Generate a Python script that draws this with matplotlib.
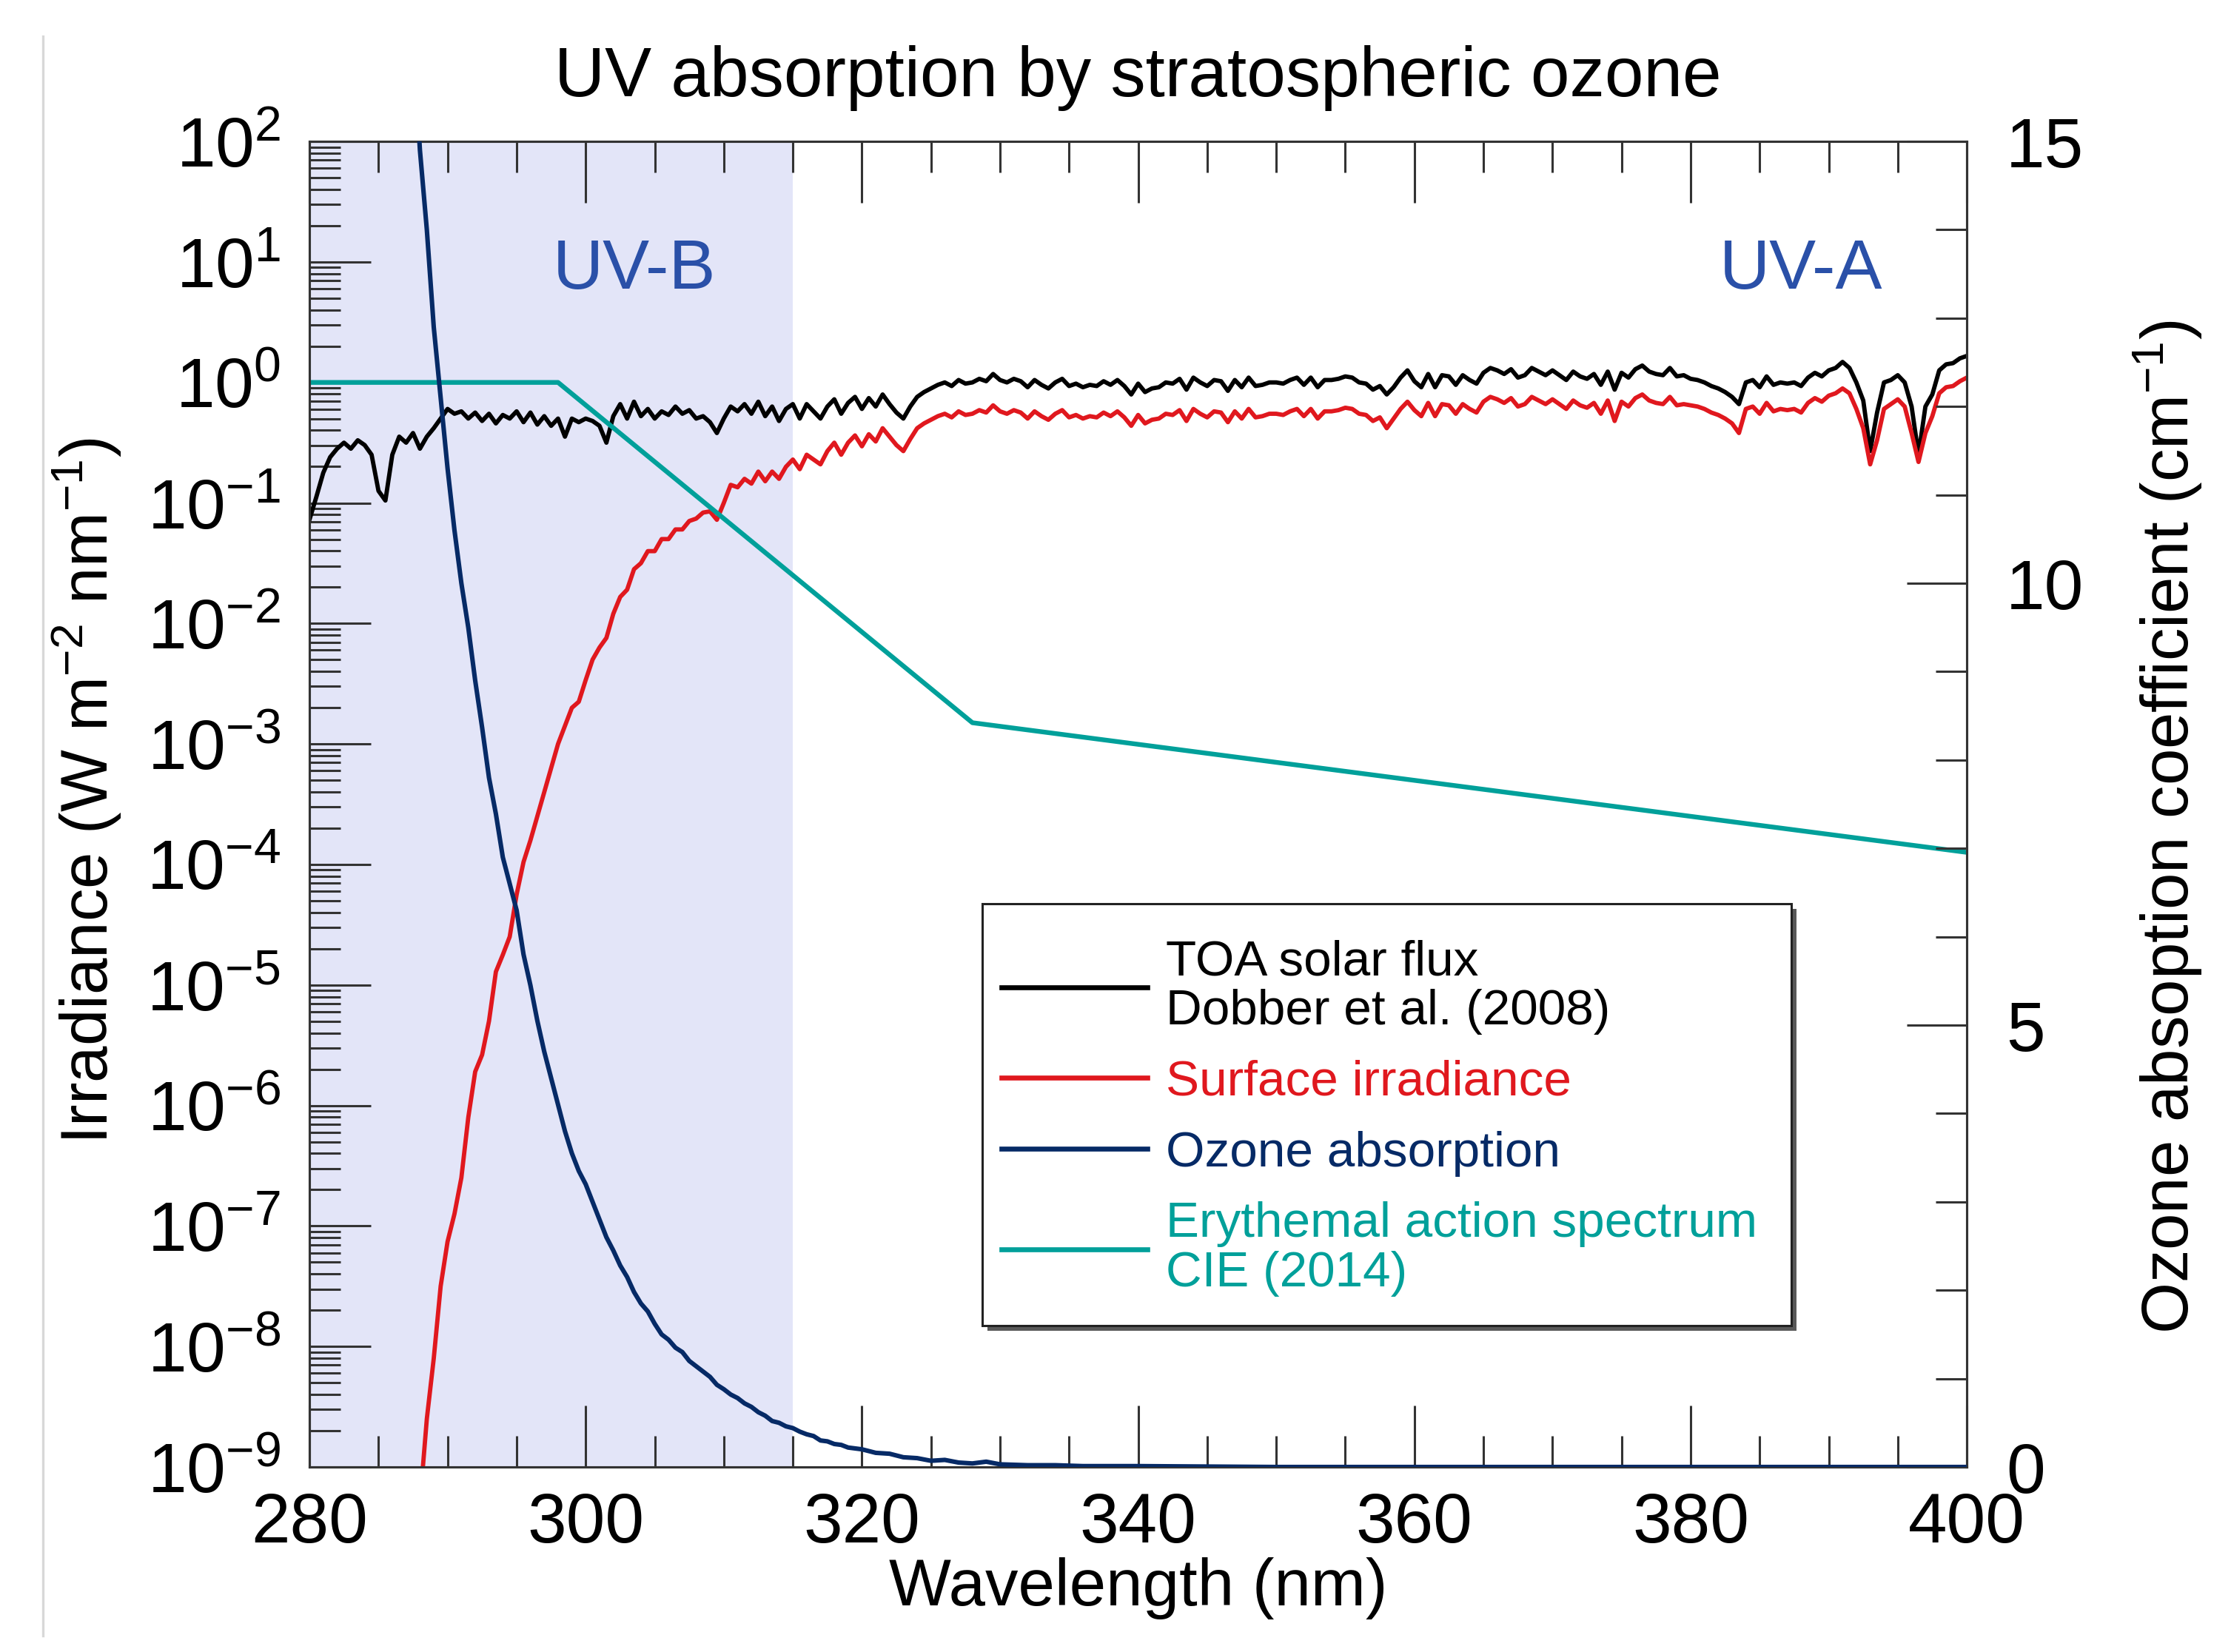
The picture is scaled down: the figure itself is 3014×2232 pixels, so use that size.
import numpy as np
import matplotlib
matplotlib.use("Agg")
import matplotlib.pyplot as plt
from matplotlib.ticker import MultipleLocator, FixedLocator, FixedFormatter
from matplotlib.lines import Line2D
from matplotlib.patches import Rectangle

plt.rcParams['font.family'] = ['Liberation Sans', 'DejaVu Sans']
plt.rcParams['mathtext.fontset'] = 'custom'
plt.rcParams['mathtext.rm'] = 'Liberation Sans'
plt.rcParams['mathtext.it'] = 'Liberation Sans:italic'
plt.rcParams['mathtext.default'] = 'regular'

# ---------------- data ----------------
wl_half = np.arange(280.0, 400.01, 0.5)  # 0.5 nm grid

toa_log10 = [
    -1.14, -0.95, -0.75, -0.62, -0.55, -0.50, -0.55, -0.48, -0.52, -0.60,   # 280-284.5
    -0.90, -0.98, -0.60, -0.45, -0.50, -0.42, -0.55, -0.45, -0.38, -0.30,   # 285-289.5
    -0.22, -0.26, -0.24, -0.30, -0.25, -0.32, -0.26, -0.34, -0.27, -0.30,   # 290-294.5
    -0.24, -0.33, -0.25, -0.35, -0.28, -0.36, -0.30, -0.45, -0.30, -0.33,   # 295-299.5
    -0.30, -0.32, -0.36, -0.50, -0.28, -0.18, -0.30, -0.16, -0.28, -0.22,   # 300-304.5
    -0.30, -0.24, -0.27, -0.20, -0.26, -0.23, -0.30, -0.28, -0.33, -0.42,   # 305-309.5
    -0.30, -0.20, -0.24, -0.18, -0.26, -0.16, -0.28, -0.20, -0.32, -0.22,   # 310-314.5
    -0.18, -0.30, -0.18, -0.24, -0.30, -0.20, -0.14, -0.26, -0.17, -0.12,   # 315-319.5
    -0.22, -0.13, -0.20, -0.10, -0.18, -0.25, -0.30, -0.20, -0.12, -0.08,   # 320-324.5
    -0.05, -0.02, 0.00, -0.03, 0.02, -0.01, 0.00, 0.03, 0.01, 0.07,         # 325-329.5
    0.02, 0.00, 0.03, 0.01, -0.04, 0.02, -0.02, -0.05, 0.00, 0.03,          # 330-334.5
    -0.03, -0.01, -0.04, -0.02, -0.03, 0.01, -0.02, 0.02, -0.03, -0.10,     # 335-339.5
    -0.01, -0.08, -0.05, -0.04, 0.00, -0.01, 0.03, -0.06, 0.04, 0.00,       # 340-344.5
    -0.03, 0.02, 0.01, -0.07, 0.02, -0.04, 0.04, -0.03, -0.02, 0.00,        # 345-349.5
    0.00, -0.01, 0.02, 0.04, -0.02, 0.04, -0.04, 0.02, 0.02, 0.03,          # 350-354.5
    0.05, 0.04, 0.00, -0.01, -0.06, -0.03, -0.10, -0.04, 0.04, 0.10,        # 355-359.5
    0.01, -0.04, 0.07, -0.04, 0.06, 0.05, -0.02, 0.06, 0.02, -0.01,         # 360-364.5
    0.08, 0.12, 0.10, 0.07, 0.11, 0.04, 0.06, 0.12, 0.09, 0.06,             # 365-369.5
    0.10, 0.06, 0.02, 0.09, 0.05, 0.03, 0.07, -0.02, 0.09, -0.06,           # 370-374.5
    0.08, 0.04, 0.11, 0.14, 0.09, 0.07, 0.06, 0.12, 0.05, 0.06,             # 375-379.5
    0.03, 0.02, 0.00, -0.03, -0.05, -0.08, -0.12, -0.18, 0.00, 0.02,        # 380-384.5
    -0.04, 0.05, -0.02, 0.00, -0.01, 0.00, -0.03, 0.04, 0.08, 0.05,         # 385-389.5
    0.10, 0.12, 0.17, 0.12, 0.00, -0.15, -0.57, -0.25, 0.00, 0.02,          # 390-394.5
    0.06, 0.00, -0.20, -0.60, -0.20, -0.10, 0.10, 0.15, 0.16, 0.20,         # 395-399.5
    0.22,                                                                   # 400
]

surf_wl = np.arange(288.0, 400.01, 0.5)
surf_log10 = [
    -9.30, -8.60, -8.10, -7.50, -7.13, -6.90, -6.60, -6.10, -5.72, -5.58,   # 288-292.5
    -5.30, -4.89, -4.75, -4.60, -4.25, -3.98, -3.80, -3.60, -3.40, -3.20,   # 293-297.5
    -3.00, -2.85, -2.70, -2.65, -2.47, -2.30, -2.20, -2.12, -1.92, -1.78,   # 298-302.5
    -1.72, -1.55, -1.50, -1.40, -1.40, -1.30, -1.30, -1.22, -1.22, -1.15,   # 303-307.5
    -1.13, -1.08, -1.07, -1.14, -1.00, -0.85, -0.87, -0.80, -0.84, -0.74,   # 308-312.5
    -0.82, -0.74, -0.80, -0.70, -0.64, -0.72, -0.60, -0.64, -0.68, -0.57,   # 313-317.5
    -0.50, -0.60, -0.50, -0.44, -0.53, -0.43, -0.49, -0.38, -0.45, -0.52,   # 318-322.5
    -0.57, -0.47, -0.38, -0.34, -0.31, -0.28, -0.26, -0.29, -0.24, -0.27,   # 323-327.5
    -0.26, -0.23, -0.25, -0.19, -0.24, -0.26, -0.23, -0.25, -0.30, -0.24,   # 328-332.5
    -0.28, -0.31, -0.26, -0.23, -0.29, -0.27, -0.30, -0.28, -0.29, -0.25,   # 333-337.5
    -0.28, -0.24, -0.29, -0.36, -0.27, -0.34, -0.31, -0.30, -0.26, -0.27,   # 338-342.5
    -0.23, -0.32, -0.22, -0.26, -0.29, -0.24, -0.25, -0.33, -0.24, -0.30,   # 343-347.5
    -0.22, -0.29, -0.28, -0.26, -0.26, -0.27, -0.24, -0.22, -0.28, -0.22,   # 348-352.5
    -0.30, -0.24, -0.24, -0.23, -0.21, -0.22, -0.26, -0.27, -0.32, -0.29,   # 353-357.5
    -0.38, -0.30, -0.22, -0.16, -0.23, -0.28, -0.17, -0.28, -0.18, -0.19,   # 358-362.5
    -0.26, -0.18, -0.22, -0.25, -0.16, -0.12, -0.14, -0.17, -0.13, -0.20,   # 363-367.5
    -0.18, -0.12, -0.15, -0.18, -0.14, -0.18, -0.22, -0.15, -0.19, -0.21,   # 368-372.5
    -0.17, -0.26, -0.15, -0.32, -0.16, -0.20, -0.13, -0.10, -0.15, -0.17,   # 373-377.5
    -0.18, -0.12, -0.19, -0.18, -0.19, -0.20, -0.22, -0.25, -0.27, -0.30,   # 378-382.5
    -0.34, -0.42, -0.22, -0.20, -0.26, -0.17, -0.24, -0.22, -0.23, -0.22,   # 383-387.5
    -0.25, -0.17, -0.13, -0.16, -0.11, -0.09, -0.05, -0.09, -0.22, -0.38,   # 388-392.5
    -0.68, -0.48, -0.22, -0.18, -0.14, -0.20, -0.42, -0.66, -0.42, -0.28,   # 393-397.5
    -0.09, -0.04, -0.03, 0.01, 0.04,                                        # 398-400
]

ozone_wl = [287.5, 288.0, 288.5, 289.0, 289.5, 290.0, 290.5, 291.0, 291.5, 292.0,
            292.5, 293.0, 293.5, 294.0, 294.5, 295.0, 295.5, 296.0, 296.5, 297.0,
            297.5, 298.0, 298.5, 299.0, 299.5, 300.0, 300.5, 301.0, 301.5, 302.0,
            302.5, 303.0, 303.5, 304.0, 304.5, 305.0, 305.5, 306.0, 306.5, 307.0,
            307.5, 308.0, 308.5, 309.0, 309.5, 310.0, 310.5, 311.0, 311.5, 312.0,
            312.5, 313.0, 313.5, 314.0, 314.5, 315.0, 315.5, 316.0, 316.5, 317.0,
            317.5, 318.0, 318.5, 319.0, 320.0, 321.0, 322.0, 323.0, 324.0, 325.0,
            326.0, 327.0, 328.0, 329.0, 330.0, 332.0, 334.0, 336.0, 340.0, 345.0,
            350.0, 400.0]
ozone_coef = [16.2, 14.9, 14.0, 12.9, 12.1, 11.3, 10.6, 10.0, 9.5, 8.9,
              8.37, 7.8, 7.39, 6.9, 6.6, 6.3, 5.8, 5.45, 5.05, 4.7,
              4.4, 4.1, 3.8, 3.55, 3.35, 3.2, 3.0, 2.8, 2.6, 2.45,
              2.28, 2.15, 1.98, 1.85, 1.76, 1.62, 1.50, 1.44, 1.35, 1.30,
              1.20, 1.14, 1.08, 1.02, 0.93, 0.88, 0.82, 0.78, 0.72, 0.68,
              0.62, 0.58, 0.52, 0.50, 0.46, 0.44, 0.40, 0.37, 0.35, 0.30,
              0.29, 0.26, 0.25, 0.22, 0.20, 0.16, 0.15, 0.11, 0.10, 0.07,
              0.08, 0.05, 0.04, 0.06, 0.03, 0.02, 0.02, 0.01, 0.01, 0.005,
              0.0, 0.0]

ery_wl = [280.0, 298.0, 328.0, 400.0]
ery_val = [1.0, 1.0, 1.5e-3, 1.26e-4]

uvb_range = (280.0, 315.0)

ytick_vals = [1e-9, 1e-8, 1e-7, 1e-6, 1e-5, 1e-4, 1e-3, 1e-2, 1e-1, 1e0, 1e1, 1e2]
ytick_labels = ['10$^{-9}$', '10$^{-8}$', '10$^{-7}$', '10$^{-6}$', '10$^{-5}$', '10$^{-4}$',
                '10$^{-3}$', '10$^{-2}$', '10$^{-1}$', '10$^{0}$', '10$^{1}$', '10$^{2}$']
xtick_vals = [280, 300, 320, 340, 360, 380, 400]
rtick_vals = [0, 5, 10, 15]

labels = ['TOA solar flux\nDobber et al. (2008)', 'Surface irradiance',
          'Ozone absorption', 'Erythemal action spectrum\nCIE (2014)']

c_black = '#000000'
c_red = '#e0181e'
c_navy = '#062a66'
c_teal = '#00a09a'
c_uv = '#2a50a8'
c_shade = '#e3e5f8'

# ---------------- figure ----------------
fig = plt.figure(figsize=(15.07, 11.16), dpi=200)
ax = fig.add_axes([0.1387, 0.1120, 0.8816 - 0.1387, 0.9144 - 0.1120])
ax2 = ax.twinx()

ax.axvspan(uvb_range[0], uvb_range[1], color=c_shade, lw=0, zorder=0)

l_toa, = ax.plot(wl_half, 10.0 ** np.array(toa_log10), color=c_black, lw=2.1, zorder=3)
l_srf, = ax.plot(surf_wl, 10.0 ** np.array(surf_log10), color=c_red, lw=2.1, zorder=3)
l_ery, = ax.plot(ery_wl, ery_val, color=c_teal, lw=2.3, zorder=4)
l_oz, = ax2.plot(ozone_wl, ozone_coef, color=c_navy, lw=2.2, zorder=3)

ax.set_yscale('log')
ax.set_xlim(280, 400)
ax.set_ylim(1e-9, 1e2)
ax2.set_ylim(0, 15)

ax.yaxis.set_major_locator(FixedLocator(ytick_vals))
ax.yaxis.set_major_formatter(FixedFormatter(ytick_labels))
minors = []
for e in range(-9, 2):
    for s in range(2, 10):
        minors.append(s * 10.0 ** e)
ax.yaxis.set_minor_locator(FixedLocator(minors))
ax.yaxis.set_minor_formatter(FixedFormatter([''] * len(minors)))

ax.xaxis.set_major_locator(FixedLocator(xtick_vals))
ax.xaxis.set_minor_locator(MultipleLocator(5))
ax2.yaxis.set_major_locator(FixedLocator(rtick_vals))
ax2.yaxis.set_minor_locator(MultipleLocator(1))

tick_fs = 34
ax.tick_params(axis='x', which='both', direction='in', top=True, bottom=True,
               labelsize=tick_fs, pad=12, width=1.1, color='#333333')
ax.tick_params(axis='x', which='major', length=30)
ax.tick_params(axis='x', which='minor', length=15)
ax.tick_params(axis='y', which='both', direction='in', left=True, right=False,
               labelsize=tick_fs, pad=14, width=1.1, color='#333333')
ax.tick_params(axis='y', which='major', length=30)
ax.tick_params(axis='y', which='minor', length=15)
ax2.tick_params(axis='y', which='both', direction='in', right=True,
                labelsize=tick_fs, pad=19, width=1.1, color='#333333')
ax2.tick_params(axis='y', which='major', length=29)
ax2.tick_params(axis='y', which='minor', length=15)

for a in (ax, ax2):
    for sp in a.spines.values():
        sp.set_linewidth(1.1)
        sp.set_color('#333333')

ax.text(303.5, 10 ** 0.93, 'UV-B', color=c_uv, fontsize=34, ha='center', va='center')
ax.text(388.0, 10 ** 0.93, 'UV-A', color=c_uv, fontsize=34, ha='center', va='center')

ax.set_title('UV absorption by stratospheric ozone', fontsize=34, pad=22)
ax.set_xlabel('Wavelength (nm)', fontsize=32, labelpad=0)
ax.set_ylabel('Irradiance (W m$^{-2}$ nm$^{-1}$)', fontsize=32)
ax.yaxis.set_label_coords(-0.112, 0.51)
ax2.set_ylabel('Ozone absoption coefficient (cm$^{-1}$)', fontsize=32)
ax2.yaxis.set_label_coords(1.099, 0.483)

# legend frame drawn as patches, legend contents without frame
box_x0, box_y0, box_w, box_h = 0.406, 0.1065, 0.488, 0.3185
ax2.add_patch(Rectangle((box_x0 + 0.003, box_y0 - 0.004), box_w, box_h,
                        transform=ax2.transAxes, facecolor='0.35', edgecolor='none',
                        zorder=6, clip_on=False))
ax2.add_patch(Rectangle((box_x0, box_y0), box_w, box_h, transform=ax2.transAxes,
                        facecolor='white', edgecolor='#222222', lw=1.1, zorder=6.5,
                        clip_on=False))
leg = ax2.legend([l_toa, l_srf, l_oz, l_ery], labels, loc='upper left',
                 bbox_to_anchor=(0.4175, 0.398), fontsize=24.3, frameon=False,
                 handlelength=2.92, handletextpad=0.37, borderpad=0,
                 labelspacing=0.5, labelcolor='linecolor', borderaxespad=0)
leg.set_zorder(7)
for t in leg.get_texts():
    t.set_linespacing(1.1)
for h in leg.legend_handles:
    h.set_linewidth(2.4)

fig.add_artist(Line2D([0.0192, 0.0192], [0.01, 0.978], transform=fig.transFigure,
                      color='#d8d8d8', lw=1.2))

fig.savefig('out.png', dpi=200)
